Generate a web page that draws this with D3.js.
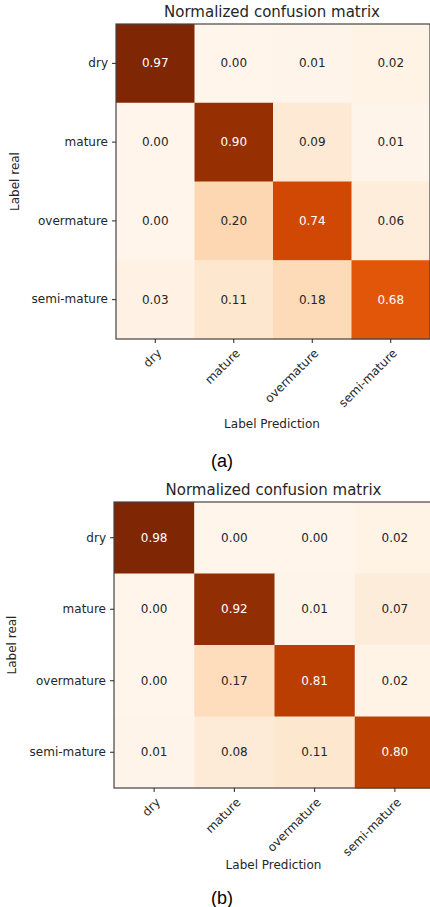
<!DOCTYPE html>
<html>
<head>
<meta charset="utf-8">
<script src="https://cdn.jsdelivr.net/npm/d3@7"></script>
<style>
  html, body { margin: 0; padding: 0; background: #fff; }
  svg { display: block; }
  text { font-family: "DejaVu Sans", sans-serif; fill: #262626; }
</style>
</head>
<body>
<svg id="chart" width="430" height="907"></svg>
<script>
// Class labels shared by both matrices
const classes = ["dry", "mature", "overmature", "semi-mature"];

// Row-normalized confusion matrices (rows = real label, columns = prediction)
const matrixA = [
  [0.97, 0.00, 0.01, 0.02],
  [0.00, 0.90, 0.09, 0.01],
  [0.00, 0.20, 0.74, 0.06],
  [0.03, 0.11, 0.18, 0.68]
];
const matrixB = [
  [0.98, 0.00, 0.00, 0.02],
  [0.00, 0.92, 0.01, 0.07],
  [0.00, 0.17, 0.81, 0.02],
  [0.01, 0.08, 0.11, 0.80]
];

const chartTitle = "Normalized confusion matrix";
const xLabel = "Label Prediction";
const yLabel = "Label real";
const captions = ["(a)", "(b)"];

const svg = d3.select("#chart");

function drawMatrix(matrix, box, caption) {
  const g = svg.append("g");
  const x = d3.scaleBand().domain(classes).range([box.x, box.x + box.w]);
  const y = d3.scaleBand().domain(classes).range([box.y, box.y + box.h]);
  const vmax = d3.max(matrix.flat());
  const color = d3.scaleSequential(d3.interpolateOranges).domain([0, vmax]);
  const thresh = vmax / 2;

  const cells = [];
  matrix.forEach((row, i) => row.forEach((v, j) => cells.push({ r: classes[i], c: classes[j], v })));

  g.selectAll("rect.cell").data(cells).join("rect")
    .attr("class", "cell")
    .attr("x", d => x(d.c)).attr("y", d => y(d.r))
    .attr("width", x.bandwidth() + 0.5).attr("height", y.bandwidth() + 0.5)
    .attr("fill", d => color(d.v));

  g.selectAll("text.val").data(cells).join("text")
    .attr("class", "val")
    .attr("x", d => x(d.c) + x.bandwidth() / 2)
    .attr("y", d => y(d.r) + y.bandwidth() / 2)
    .attr("text-anchor", "middle").attr("dominant-baseline", "central")
    .attr("font-size", 12)
    .style("fill", d => d.v > thresh ? "#fff" : "#262626")
    .text(d => d.v.toFixed(2));

  // frame
  g.append("rect")
    .attr("x", box.x).attr("y", box.y).attr("width", box.w).attr("height", box.h)
    .attr("fill", "none").attr("stroke", "#444").attr("stroke-width", 1.2);

  // y axis
  const yAxis = g.append("g").attr("transform", `translate(${box.x},0)`)
    .call(d3.axisLeft(y).tickSize(4).tickPadding(4));
  yAxis.select(".domain").remove();
  yAxis.selectAll("text").attr("font-size", 12).style("font-family", "DejaVu Sans, sans-serif").style("fill", "#262626");
  yAxis.selectAll("line").attr("stroke", "#262626");

  // x axis with rotated labels
  const xAxis = g.append("g").attr("transform", `translate(0,${box.y + box.h})`)
    .call(d3.axisBottom(x).tickSize(4).tickPadding(4));
  xAxis.select(".domain").remove();
  xAxis.selectAll("line").attr("stroke", "#262626");
  xAxis.selectAll("text")
    .attr("font-size", 12).style("font-family", "DejaVu Sans, sans-serif").style("fill", "#262626")
    .attr("text-anchor", "end").attr("dy", null).attr("y", 0)
    .attr("transform", "translate(7,15) rotate(-45)");

  // title
  g.append("text")
    .attr("x", box.x + box.w / 2 - 1).attr("y", box.y - 7)
    .attr("text-anchor", "middle").attr("font-size", 15)
    .text(chartTitle);

  // axis titles
  g.append("text")
    .attr("x", box.x + box.w / 2 - 1).attr("y", box.xLabelY)
    .attr("text-anchor", "middle").attr("font-size", 12)
    .text(xLabel);
  g.append("text")
    .attr("transform", `translate(${box.yLabelX},${box.y + box.h / 2}) rotate(-90)`)
    .attr("text-anchor", "middle").attr("font-size", 12)
    .text(yLabel);

  // subfigure caption
  svg.append("text")
    .attr("x", 222).attr("y", box.captionY)
    .attr("text-anchor", "middle")
    .style("font-family", "Liberation Sans, Arial, sans-serif")
    .style("fill", "#000")
    .attr("font-size", 18)
    .text(caption);
}

drawMatrix(matrixA, { x: 116, y: 24, w: 314, h: 315, xLabelY: 428, yLabelX: 19, captionY: 467 }, captions[0]);
drawMatrix(matrixB, { x: 114, y: 502, w: 321, h: 286, xLabelY: 869, yLabelX: 16, captionY: 904 }, captions[1]);
</script>
</body>
</html>
